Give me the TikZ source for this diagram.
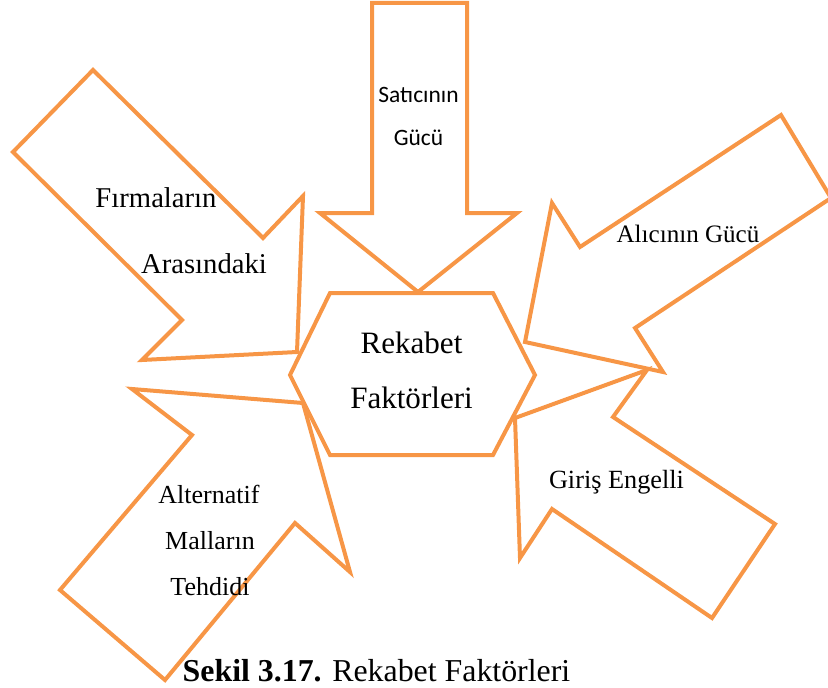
\documentclass[tikz,border=0pt]{standalone}
\usepackage{fontspec}
\setmainfont{Liberation Serif}
\newfontfamily\calibrifont{Carlito}
\usepackage{tikz}
\definecolor{arroworange}{RGB}{247,150,70}

\begin{document}
\begin{tikzpicture}[
    x=0.75pt, y=-0.75pt,
    blockarrow/.style={draw=arroworange, line width=3pt, line join=miter},
    txt/.style={anchor=base, inner sep=0pt, font=\fontsize{#1}{#1}\selectfont},
    sanstxt/.style={anchor=base, inner sep=0pt, font=\calibrifont\fontsize{#1}{#1}\selectfont}
]
\clip (0,0) rectangle (828,688);
% center hexagon
\draw[blockarrow] (290,375) -- (330,293) -- (493,293) -- (535,375) -- (493,455) -- (330,455) -- cycle;
% block arrows
\draw[blockarrow] (372,3) -- (467,3) -- (467,213) -- (517,213) -- (418,292) -- (320,213) -- (372,213) -- cycle;
\draw[blockarrow] (93,70) -- (263,238) -- (303,196) -- (297,352) -- (142,360) -- (182,320) -- (13,152) -- cycle;
\draw[blockarrow] (781,115) -- (831,198) -- (635,328) -- (663,372) -- (525,342) -- (552,203) -- (580,247) -- cycle;
\draw[blockarrow] (515,418) -- (647,370) -- (613,417) -- (775,524) -- (712,618) -- (552,509) -- (520,558) -- cycle;
\draw[blockarrow] (303,403) -- (350,572) -- (295,523) -- (165,680) -- (60,590) -- (192,435) -- (132,389) -- cycle;
% texts
\node[txt=23.3pt] (rek1) at (411.5,353) {Rekabet};
\node[txt=23.3pt] (rek2) at (411.5,408) {Faktörleri};
\node[sanstxt=17.6pt] (sat1) at (418.5,103) {Satıcının};
\node[sanstxt=17.6pt] (sat2) at (418.5,146) {Gücü};
\node[txt=21.5pt] (firma1) at (156,207) {Fırmaların};
\node[txt=21.5pt] (firma2) at (204,273) {Arasındaki};
\node[txt=18.8pt] (alici) at (688,243) {Alıcının Gücü};
\node[txt=19.7pt] (giris) at (616.5,488) {Giriş Engelli};
\node[txt=19.5pt] (alt1) at (209,503) {Alternatif};
\node[txt=19.5pt] (alt2) at (210,549) {Malların};
\node[txt=19.5pt] (alt3) at (210,595) {Tehdidi};
\node[txt=23.9pt] (caption) at (376.5,681) {\textbf{Sekil 3.17.} Rekabet Faktörleri};
\end{tikzpicture}
\end{document}
